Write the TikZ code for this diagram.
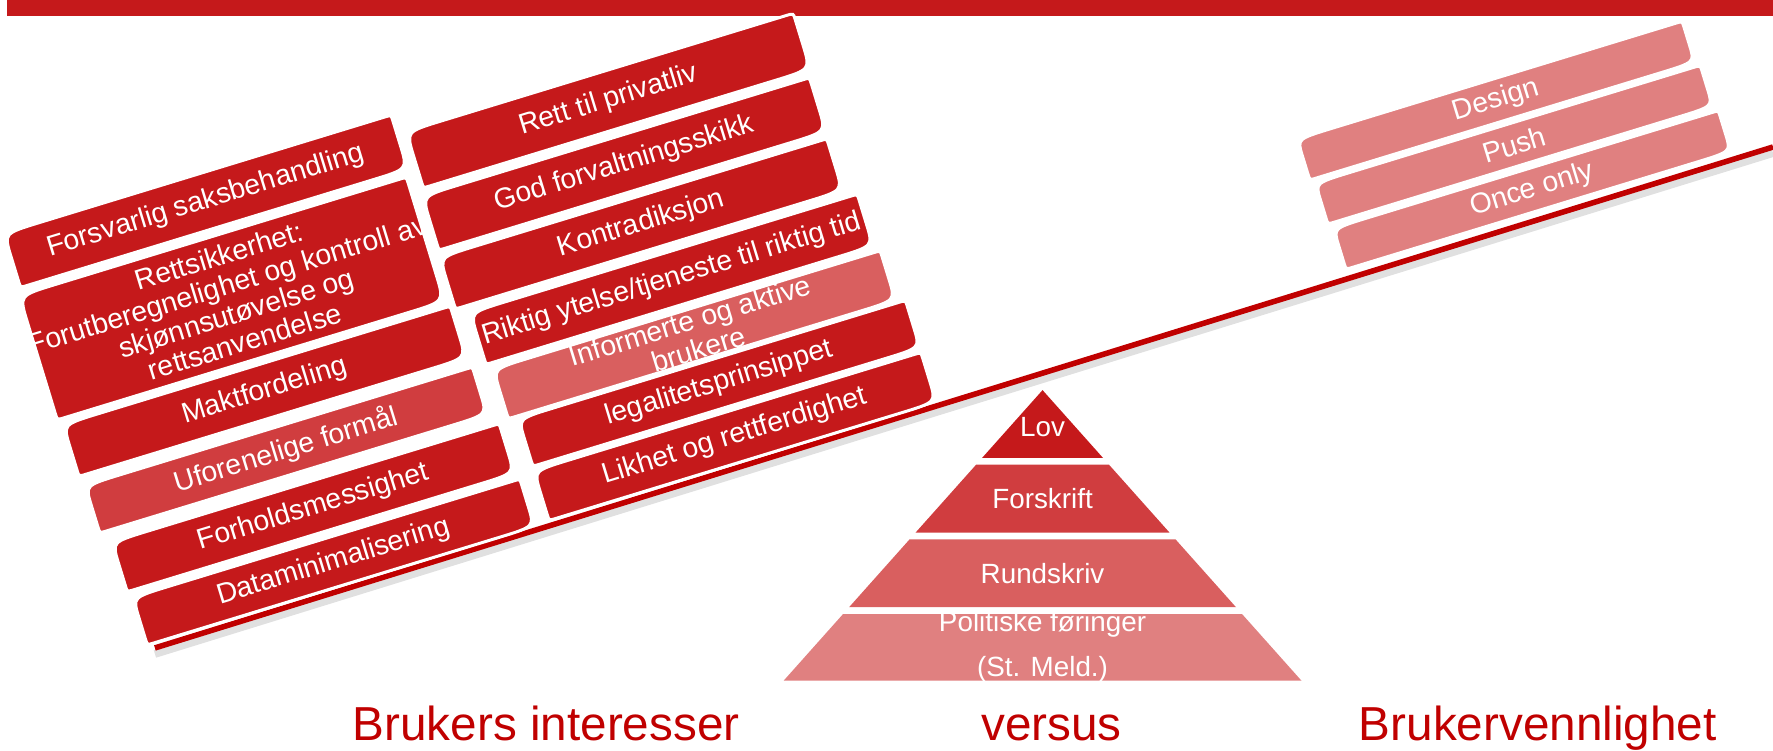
\documentclass[tikz,border=0pt]{standalone}
\usepackage{fontspec}
\setmainfont{Liberation Sans}
\definecolor{boxred}{RGB}{197,25,27}
\definecolor{midred}{RGB}{208,61,63}
\definecolor{lightred}{RGB}{217,95,95}
\definecolor{palered}{RGB}{224,128,128}
\definecolor{beamred}{RGB}{192,0,0}
\tikzset{
  tiletext/.style={rotate=17, inner sep=0pt, text=white, align=center,
    font=\fontsize{14.3}{15}\selectfont},
  level/.style={text=white, font=\fontsize{14}{22.7}\selectfont, align=center},
  side/.style={text=beamred, anchor=base, font=\fontsize{24}{28}\selectfont},
}
% tile: name, position, width, height, colour, text
\newcommand{\tile}[6]{%
  \begin{scope}[shift={#2}, rotate=17]
    \filldraw[fill=#5, draw=white, line width=1.5pt]
      (-#3/2+32,-#4/2) -- (#3/2-6,-#4/2) .. controls (#3/2,-#4/2) .. (#3/2,-#4/2+5)
      -- (#3/2,{#4/2-min(#4/2-4,24)}) .. controls (#3/2,#4/2) .. (#3/2-32,#4/2)
      -- (-#3/2+6,#4/2) .. controls (-#3/2,#4/2) .. (-#3/2,#4/2-5)
      -- (-#3/2,{-#4/2+min(#4/2-4,24)}) .. controls (-#3/2,-#4/2) .. (-#3/2+32,-#4/2) -- cycle;
  \end{scope}
  \node[tiletext] (#1) at #2 {#6};}

\begin{document}
\begin{tikzpicture}[x=0.02cm, y=-0.02cm]
    \useasboundingbox (0,0) rectangle (1568,664);
    \fill[boxred] (6,0) rectangle (1568,14);
    % beam
    \coordinate (beamL) at (137,573);
    \coordinate (beamR) at (1568,130);
    \draw[black!12, line width=4pt] ([yshift=-3pt]beamL) -- ([yshift=-3pt]beamR);
    \draw[beamred, line width=2.8pt] (beamL) -- (beamR);
    % left column
    \tile{forsvarlig}{(182,178)}{358}{50}{boxred}{Forsvarlig saksbehandling}
    \tile{rettsikker}{(205,264)}{358}{115}{boxred}{Rettsikkerhet:\\Forutberegnelighet og kontroll av\\skjønnsutøvelse og\\rettsanvendelse}
    \tile{makt}{(234,346)}{358}{48}{boxred}{Maktfordeling}
    \tile{uforenelig}{(253,398)}{358}{44}{midred}{Uforenelige formål}
    \tile{forhold}{(277,449)}{358}{46}{boxred}{Forholdsmessighet}
    \tile{datamin}{(295,497)}{358}{44}{boxred}{Dataminimalisering}
    % right column
    \tile{privatliv}{(538,89)}{358}{52}{boxred}{Rett til privatliv}
    \tile{skikk}{(552,145)}{358}{50}{boxred}{God forvaltningsskikk}
    \tile{kontra}{(567,198)}{358}{48}{boxred}{Kontradiksjon}
    \tile{riktig}{(594,247)}{358}{48}{boxred}{Riktig ytelse/tjeneste til riktig tid}
    \tile{informert}{(614,296)}{358}{46}{lightred}{Informerte og aktive\\brukere}
    \tile{legalitet}{(636,339)}{358}{44}{boxred}{legalitetsprinsippet}
    \tile{likhet}{(650,386)}{358}{46}{boxred}{Likhet og rettferdighet}
    % brukervennlighet
    \tile{design}{(1323,89)}{356}{38}{palered}{Design}
    \tile{push}{(1339,128)}{356}{38}{palered}{Push}
    \tile{once}{(1355,168)}{356}{38}{palered}{Once only}
    % pyramid
    \fill[boxred] (922,345) -- (975.5,405) -- (868.5,405) -- cycle;
    \fill[midred] (863.2,411) -- (980.8,411) -- (1034.3,471) -- (809.7,471) -- cycle;
    \fill[lightred] (804.4,477) -- (1039.6,477) -- (1093.1,537) -- (750.9,537) -- cycle;
    \fill[palered] (745.6,543) -- (1098.4,543) -- (1151,602) -- (693,602) -- cycle;
    \node[level] (lov) at (922,378) {Lov};
    \node[level] (forskrift) at (922,441) {Forskrift};
    \node[level] (rundskriv) at (922,507) {Rundskriv};
    \node[level] (politisk) at (922,572) {Politiske føringer\\(St. Meld.)};
    % labels
    \node[side] (brukers) at (483,655) {Brukers interesser};
    \node[side] (versus) at (930,655) {versus};
    \node[side] (vennlig) at (1360,655) {Brukervennlighet};
  \end{tikzpicture}
\end{document}
